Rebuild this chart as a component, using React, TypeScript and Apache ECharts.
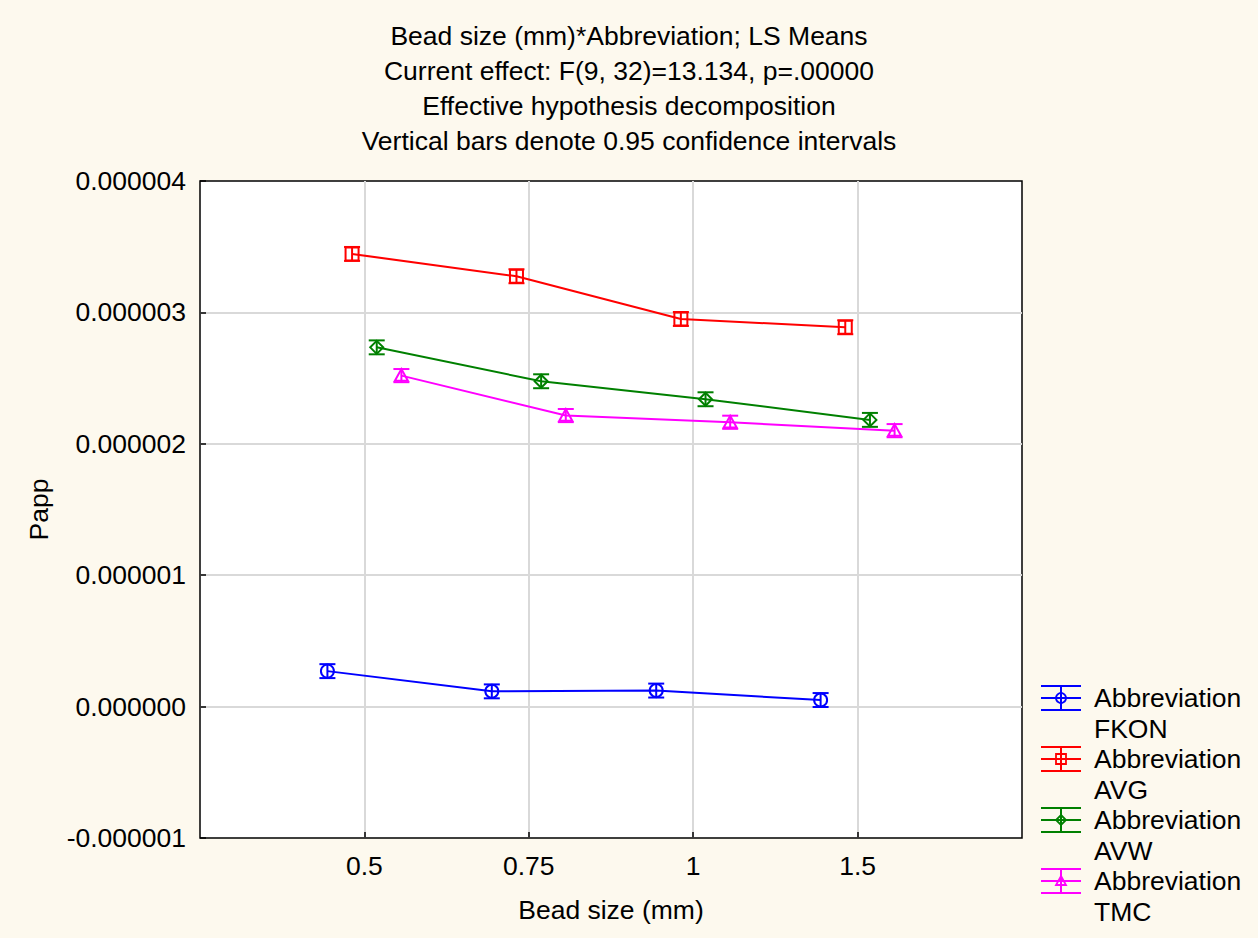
import React, { useEffect, useRef } from "react";
import * as echarts from "echarts";

// Bead size levels on the x axis (one slot per level)
const beadSizes = ["0.5", "0.75", "1", "1.5"];
// Abbreviation groups, drawn side by side inside each bead-size slot
const groups = ["FKON", "AVG", "AVW", "TMC"];
const groupColors = ["#0000ff", "#ff0000", "#008000", "#ff00ff"];
const groupMarkers = ["circle", "square", "diamond", "triangle"];
const groupOffsets = [-0.225, -0.075, 0.075, 0.225];

// LS means of Papp per bead size
const fkonMeans = [2.7e-7, 1.16e-7, 1.22e-7, 5.0e-8];
const avgMeans = [3.445e-6, 3.275e-6, 2.95e-6, 2.887e-6];
const avwMeans = [2.734e-6, 2.476e-6, 2.339e-6, 2.182e-6];
const tmcMeans = [2.519e-6, 2.215e-6, 2.164e-6, 2.1e-6];

// Half-widths of the 0.95 confidence intervals
const fkonCi = [5.3e-8, 5.3e-8, 5.3e-8, 5.3e-8];
const avgCi = [5.3e-8, 5.3e-8, 5.3e-8, 5.3e-8];
const avwCi = [5.3e-8, 5.3e-8, 5.3e-8, 5.3e-8];
const tmcCi = [5.0e-8, 5.0e-8, 5.0e-8, 5.0e-8];

// Y axis range and tick step
const yMin = -0.000001;
const yMax = 0.000004;
const yStep = 0.000001;

const titleLines = [
  "Bead size (mm)*Abbreviation; LS Means",
  "Current effect: F(9, 32)=13.134, p=.00000",
  "Effective hypothesis decomposition",
  "Vertical bars denote 0.95 confidence intervals",
];

const FONT = "'Liberation Sans', Arial, Helvetica, sans-serif";
const FS = 26.5;

function markerShape(kind: string, cx: number, cy: number, r: number, color: string, lw: number) {
  const style = { fill: "none", stroke: color, lineWidth: lw };
  if (kind === "circle") {
    return { type: "circle", shape: { cx, cy, r }, style };
  }
  if (kind === "square") {
    return { type: "rect", shape: { x: cx - r, y: cy - r, width: 2 * r, height: 2 * r }, style };
  }
  if (kind === "diamond") {
    return {
      type: "polygon",
      shape: { points: [[cx, cy - r], [cx + r, cy], [cx, cy + r], [cx - r, cy]] },
      style,
    };
  }
  return {
    type: "polygon",
    shape: { points: [[cx, cy - r], [cx + r, cy + r * 0.8], [cx - r, cy + r * 0.8]] },
    style,
  };
}

export default function App() {
  const ref = useRef<HTMLDivElement>(null);

  useEffect(() => {
    if (!ref.current) return;
    const chart = echarts.init(ref.current, undefined, { renderer: "svg" });

    const means = [fkonMeans, avgMeans, avwMeans, tmcMeans];
    const cis = [fkonCi, avgCi, avwCi, tmcCi];

    const lineSeries = groups.map((g, gi) => ({
      name: g,
      type: "line",
      data: means[gi].map((v, i) => [i + 1 + groupOffsets[gi], v]),
      symbol: "none",
      lineStyle: { color: groupColors[gi], width: 2 },
      z: 2,
    }));

    const barSeries = groups.map((g, gi) => ({
      name: g + " CI",
      type: "custom",
      z: 3,
      data: means[gi].map((v, i) => [i + 1 + groupOffsets[gi], v, cis[gi][i]]),
      renderItem: (params: any, api: any) => {
        const x = api.value(0);
        const y = api.value(1);
        const e = api.value(2);
        const c = api.coord([x, y]);
        const top = api.coord([x, y + e]);
        const bot = api.coord([x, y - e]);
        const color = groupColors[gi];
        const lw = 2;
        const half = 8;
        const ls = { stroke: color, lineWidth: lw };
        return {
          type: "group",
          children: [
            { type: "line", shape: { x1: c[0], y1: top[1], x2: c[0], y2: bot[1] }, style: ls },
            { type: "line", shape: { x1: c[0] - half, y1: top[1], x2: c[0] + half, y2: top[1] }, style: ls },
            { type: "line", shape: { x1: c[0] - half, y1: bot[1], x2: c[0] + half, y2: bot[1] }, style: ls },
            markerShape(groupMarkers[gi], c[0], c[1], 6.5, color, lw),
          ],
        };
      },
    }));

    // Legend: error-bar glyph plus two-line label per group
    const legendGraphics: any[] = [];
    groups.forEach((g, gi) => {
      const cy = 698 + 61 * gi;
      const color = groupColors[gi];
      const ls = { stroke: color, lineWidth: 2 };
      legendGraphics.push(
        { type: "line", shape: { x1: 1041, y1: cy - 12, x2: 1081, y2: cy - 12 }, style: ls },
        { type: "line", shape: { x1: 1041, y1: cy + 12, x2: 1081, y2: cy + 12 }, style: ls },
        { type: "line", shape: { x1: 1061, y1: cy - 12, x2: 1061, y2: cy + 12 }, style: ls },
        { type: "line", shape: { x1: 1041, y1: cy, x2: 1081, y2: cy }, style: ls },
        markerShape(groupMarkers[gi], 1061, cy, 5, color, 1.8),
        {
          type: "text",
          x: 1094,
          y: cy,
          style: { text: "Abbreviation", fill: "#000", font: `${FS}px ${FONT}`, textVerticalAlign: "middle" },
        },
        {
          type: "text",
          x: 1094,
          y: cy + 30.5,
          style: { text: g, fill: "#000", font: `${FS}px ${FONT}`, textVerticalAlign: "middle" },
        }
      );
    });

    const tickValues = beadSizes.map((_, i) => i + 1);
    const gridColor = { color: "#d9d9d9", width: 2 };

    chart.setOption({
      animation: false,
      backgroundColor: "#fdf9ee",
      textStyle: { fontFamily: FONT },
      title: {
        text: titleLines.join("\n"),
        left: "center",
        top: 13,
        textStyle: { fontSize: FS, fontWeight: "normal", color: "#000", lineHeight: 35, fontFamily: FONT },
      },
      grid: {
        left: 200,
        top: 181,
        width: 822,
        height: 657,
        show: true,
        backgroundColor: "#ffffff",
        borderColor: "#000",
        borderWidth: 1.5,
        containLabel: false,
      },
      xAxis: {
        type: "value",
        min: 0,
        max: beadSizes.length + 1,
        interval: 1,
        name: "Bead size (mm)",
        nameLocation: "middle",
        nameGap: 58,
        nameTextStyle: { fontSize: FS, color: "#000", fontFamily: FONT },
        axisLine: { show: false, onZero: false },
        axisTick: { show: true, inside: true, length: 6, lineStyle: { color: "#000", width: 1.5 }, customValues: tickValues },
        axisLabel: {
          fontSize: FS,
          color: "#000",
          margin: 14,
          fontFamily: FONT,
          customValues: tickValues,
          formatter: (v: number) => beadSizes[Math.round(v) - 1] ?? "",
        },
        splitLine: { show: true, showMinLine: true, showMaxLine: true, lineStyle: gridColor },
      },
      yAxis: {
        type: "value",
        min: yMin,
        max: yMax,
        interval: yStep,
        name: "Papp",
        nameLocation: "middle",
        nameGap: 148,
        nameRotate: 90,
        nameTextStyle: { fontSize: FS, color: "#000", fontFamily: FONT },
        axisLine: { show: false, onZero: false },
        axisTick: { show: true, inside: true, length: 6, lineStyle: { color: "#000", width: 1.5 } },
        axisLabel: {
          fontSize: FS,
          color: "#000",
          margin: 14,
          fontFamily: FONT,
          formatter: (v: number) => v.toFixed(6),
        },
        splitLine: { show: true, showMinLine: false, showMaxLine: false, lineStyle: gridColor },
      },
      series: [...lineSeries, ...barSeries],
      graphic: legendGraphics,
    });

    return () => chart.dispose();
  }, []);

  return (
    <div
      ref={ref}
      style={{ position: "fixed", left: 0, top: 0, width: 1258, height: 938 }}
    />
  );
}
